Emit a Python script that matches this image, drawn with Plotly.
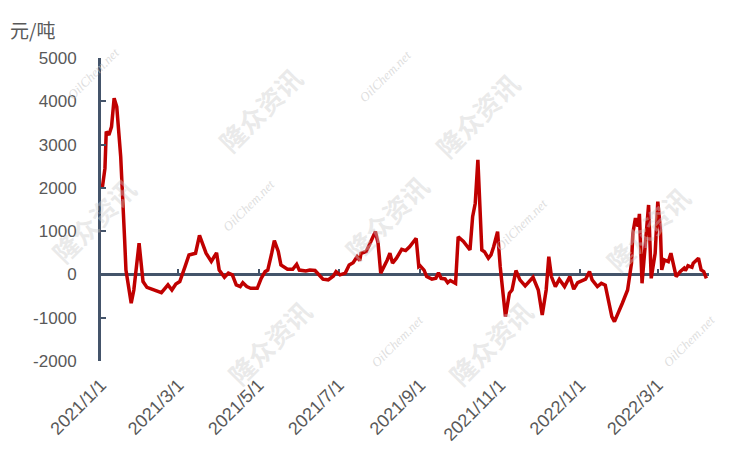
import plotly.graph_objects as go

dates = [
    "2021-01-02", "2021-01-04", "2021-01-05", "2021-01-07", "2021-01-09", "2021-01-11", "2021-01-13",
    "2021-01-16", "2021-01-19", "2021-01-20", "2021-01-24", "2021-01-26", "2021-01-30", "2021-02-02",
    "2021-02-05", "2021-02-16", "2021-02-21", "2021-02-24", "2021-02-27", "2021-03-02", "2021-03-06",
    "2021-03-09", "2021-03-14", "2021-03-17", "2021-03-22", "2021-03-26", "2021-03-30", "2021-04-01",
    "2021-04-05", "2021-04-08", "2021-04-11", "2021-04-14", "2021-04-17", "2021-04-19", "2021-04-22",
    "2021-04-25", "2021-04-30", "2021-05-03", "2021-05-06", "2021-05-08", "2021-05-11", "2021-05-13",
    "2021-05-16", "2021-05-18", "2021-05-23", "2021-05-27", "2021-05-30", "2021-06-01", "2021-06-06",
    "2021-06-09", "2021-06-13", "2021-06-15", "2021-06-19", "2021-06-23", "2021-06-27", "2021-06-29",
    "2021-07-02", "2021-07-06", "2021-07-09", "2021-07-12", "2021-07-15", "2021-07-17", "2021-07-18",
    "2021-07-22", "2021-07-25", "2021-07-29", "2021-07-31", "2021-08-02", "2021-08-07", "2021-08-09",
    "2021-08-11", "2021-08-14", "2021-08-18", "2021-08-21", "2021-08-24", "2021-08-29", "2021-08-31",
    "2021-09-01", "2021-09-04", "2021-09-06", "2021-09-10", "2021-09-13", "2021-09-15", "2021-09-17",
    "2021-09-20", "2021-09-22", "2021-09-24", "2021-09-28", "2021-09-30", "2021-10-04", "2021-10-09",
    "2021-10-11", "2021-10-13", "2021-10-15", "2021-10-18", "2021-10-20", "2021-10-23", "2021-10-25",
    "2021-10-27", "2021-10-30", "2021-11-01", "2021-11-03", "2021-11-05", "2021-11-08", "2021-11-10",
    "2021-11-13", "2021-11-16", "2021-11-20", "2021-11-22", "2021-11-26", "2021-11-30", "2021-12-03",
    "2021-12-06", "2021-12-08", "2021-12-10", "2021-12-13", "2021-12-16", "2021-12-20", "2021-12-24",
    "2021-12-27", "2021-12-30", "2022-01-03", "2022-01-05", "2022-01-08", "2022-01-10", "2022-01-14",
    "2022-01-17", "2022-01-20", "2022-01-22", "2022-01-25", "2022-01-27", "2022-01-30", "2022-02-02",
    "2022-02-06", "2022-02-09", "2022-02-10", "2022-02-12", "2022-02-14", "2022-02-15", "2022-02-17",
    "2022-02-18", "2022-02-20", "2022-02-22", "2022-02-23", "2022-02-24", "2022-02-27", "2022-03-01",
    "2022-03-03", "2022-03-04", "2022-03-06", "2022-03-09", "2022-03-11", "2022-03-13", "2022-03-15",
    "2022-03-18", "2022-03-21", "2022-03-22", "2022-03-24", "2022-03-27", "2022-03-28", "2022-04-01",
    "2022-04-03", "2022-04-05", "2022-04-07",
]

values = [
    2000, 2450, 3300, 3220, 3410, 4070, 3870,
    2720, 800, 100, -665, -360, 720, -165,
    -300, -420, -240, -360, -220, -165, 180,
    450, 490, 900, 490, 300, 500, 100,
    -65, 30, -10, -240, -280, -190, -280,
    -320, -320, -90, 65, 100, 490, 780,
    530, 220, 120, 120, 235, 100, 80,
    100, 90, 30, -110, -125, -35, 65,
    -10, 30, 220, 270, 410, 320, 490,
    530, 720, 990, 720, 30, 335, 490,
    260, 375, 580, 550, 640, 835, 180,
    200, 100, -50, -110, -90, 40, -90,
    -105, -190, -140, -205, 870, 760, 565,
    1335, 1645, 2645, 565, 525, 375, 450,
    640, 990, 180, -435, -975, -435, -360,
    90, -125, -265, -205, -65, -360, -935,
    -360, 410, -50, -280, -110, -280, -50,
    -340, -190, -145, -110, 65, -125, -280,
    -205, -250, -510, -975, -1090, -895, -665,
    -360, 260, 950, 1300, 1105, 1400, -205,
    105, 875, 1605, 410, -90, 490, 1680,
    1030, 105, 335, 295, 490, 220, -50,
    65, 145, 90, 200, 165, 260, 375,
    105, 65, -90,
]

tick_dates = ["2021-01-01", "2021-03-01", "2021-05-01", "2021-07-01", "2021-09-01",
              "2021-11-01", "2022-01-01", "2022-03-01"]
tick_labels = ["2021/1/1", "2021/3/1", "2021/5/1", "2021/7/1", "2021/9/1",
               "2021/11/1", "2022/1/1", "2022/3/1"]
y_ticks = [-2000, -1000, 0, 1000, 2000, 3000, 4000, 5000]
y_tick_labels = ["-2000", "-1000", "0", "1000", "2000", "3000", "4000", "5000"]
unit_label = "元/吨"

x_range = ["2021-01-01", "2022-04-09"]
y_range = [-2000, 5000]
axis_color = "#44546A"
text_color = "#595959"

# page is offset by the default 8px body margin
OFF = 8
W, H = 750 - OFF, 449 - OFF
ML, MR, MT, MB = 101 - OFF, 41, 58 - OFF, 88
PW, PH = W - ML - MR, H - MT - MB


def to_paper(px, py):
    px -= OFF
    py -= OFF
    return (px - ML) / PW, (H - MB - py) / PH


fig = go.Figure()

# watermarks
wm_big = [(40, 220), (207, 57), (386, 217), (530, 62), (700, 228), (216, 395), (543, 395)]
wm_small = [(62, 42), (217, 205), (552, 225), (397, 373), (720, 373), (385, 45)]
for (px, py) in wm_big:
    xp, yp = to_paper(px, py)
    fig.add_annotation(text="<b>隆众资讯</b>", x=xp, y=yp, xref="paper", yref="paper",
                       showarrow=False, textangle=-45,
                       font=dict(size=26, color="rgba(205,205,205,0.42)", family="Noto Sans CJK SC"))
for (px, py) in wm_small:
    xp, yp = to_paper(px, py)
    fig.add_annotation(text="<i>OilChem.net</i>", x=xp, y=yp, xref="paper", yref="paper",
                       showarrow=False, textangle=-45,
                       font=dict(size=13, color="rgba(200,200,200,0.6)", family="Liberation Serif"))

fig.add_trace(go.Scatter(x=dates, y=values, mode="lines", xaxis="x2", yaxis="y",
                         line=dict(color="#C00000", width=3.5), hoverinfo="x+y", showlegend=False))
fig.add_trace(go.Scatter(x=dates, y=values, mode="lines", xaxis="x", yaxis="y",
                         line=dict(color="rgba(0,0,0,0)", width=0), hoverinfo="skip", showlegend=False))

zero_pos = (0 - y_range[0]) / (y_range[1] - y_range[0])

fig.update_layout(
    width=W, height=H,
    margin=dict(l=ML, r=MR, t=MT, b=MB),
    paper_bgcolor="white", plot_bgcolor="white",
    font=dict(family="Liberation Sans", color=text_color, size=16),
    xaxis=dict(
        type="date", range=x_range, tickvals=tick_dates, ticktext=tick_labels,
        tickangle=-45, showgrid=False, zeroline=False, showline=False, ticks="",
        tickfont=dict(size=18, color=text_color), anchor="y", automargin=False,
        ticklabelstandoff=9,
    ),
    xaxis2=dict(
        type="date", range=x_range, overlaying="x", matches="x", anchor="free", position=zero_pos,
        showline=True, linecolor=axis_color, linewidth=2.5, ticks="inside", ticklen=5, tickwidth=2,
        tickcolor=axis_color, tickvals=tick_dates, showticklabels=False, showgrid=False, zeroline=False,
        layer="below traces", automargin=False,
    ),
    yaxis=dict(
        range=y_range, tickvals=y_ticks, ticktext=y_tick_labels, showgrid=False, zeroline=False,
        showline=True, linecolor=axis_color, linewidth=3, ticks="inside", ticklen=5, tickwidth=2,
        tickcolor=axis_color, ticklabelstandoff=18, tickfont=dict(size=17, color=text_color),
        automargin=False,
    ),
)

xp, yp = to_paper(8, 29)
fig.add_annotation(text=unit_label, x=xp, y=yp, xref="paper", yref="paper",
                   xanchor="left", yanchor="middle", showarrow=False,
                   font=dict(size=19, color=text_color, family="Noto Sans CJK SC"))

fig.write_html("out.html")
